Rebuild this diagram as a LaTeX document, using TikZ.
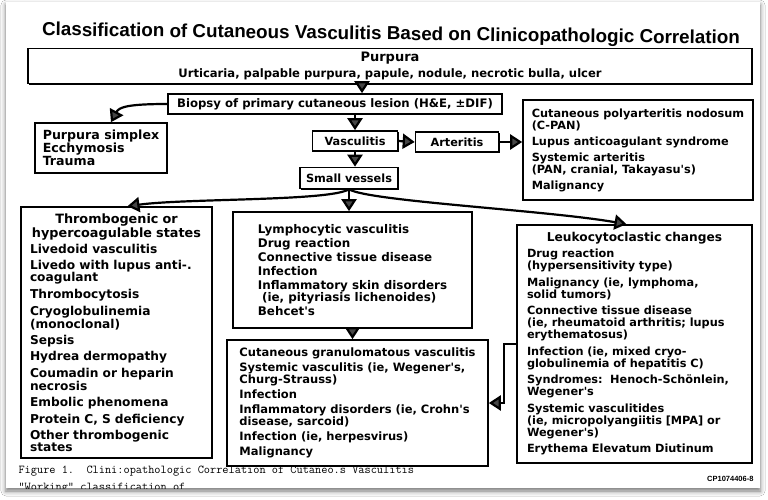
\documentclass[tikz,border=0pt]{standalone}
\usepackage{fontspec}
\newfontfamily\boxfont{DejaVu Sans}
\newfontfamily\headfont{Liberation Sans}
\usetikzlibrary{arrows.meta,shadows,shadows.blur}
\setlength\parindent{0pt}
\setlength\lineskiplimit{-20pt}

\tikzset{
  box/.style={draw=black, line width=1.6pt, fill=white, inner sep=0pt,
    font=\boxfont\bfseries\fontsize{11.3}{12}\selectfont,
    drop shadow={shadow xshift=1.3pt, shadow yshift=-1.3pt, fill=black, opacity=1}},
  arr/.style={line width=2.2pt, -{Triangle[width=15pt,length=12pt]}},
}

\begin{document}
\begin{tikzpicture}[x=1pt,y=-1pt]
  \useasboundingbox (0,0) rectangle (768,500);
  \fill[white] (0,0) rectangle (768,500);
  \fill[white, blur shadow={shadow xshift=0pt, shadow yshift=-3pt, shadow blur radius=5pt, shadow opacity=55}]
    (6,2) rectangle (760,488);
  \begin{scope}
  \clip (6,2) rectangle (760,488);

  % title
  \node[font=\headfont\bfseries\fontsize{18.8}{20}\selectfont, rotate=-0.7] (title) at (391,35)
    {Classification of Cutaneous Vasculitis Based on Clinicopathologic Correlation};

  % top row
  \node[box, minimum width=724pt, minimum height=35pt, align=center] (purpura) at (390,66)
    {{\fontsize{13}{12}\selectfont Purpura}\\[4pt]{\fontsize{11.6}{12}\selectfont Urticaria, palpable purpura, papule, nodule, necrotic bulla, ulcer}};
  \node[box, minimum width=334pt, minimum height=20pt, font=\boxfont\bfseries\fontsize{11.7}{12}\selectfont] (biopsy) at (335,104)
    {Biopsy of primary cutaneous lesion (H\&E, ±DIF)};
  \node[box, minimum width=132pt, minimum height=50pt, align=left, font=\boxfont\bfseries\fontsize{12.6}{13}\selectfont] (simplex) at (101,148)
    {Purpura simplex\\ Ecchymosis\\ Trauma};
  \node[box, minimum width=85pt, minimum height=20pt] (vasc) at (355,141) {Vasculitis};
  \node[box, minimum width=83pt, minimum height=20pt] (arter) at (457,142) {Arteritis};
  \node[box, minimum width=230pt, minimum height=100pt, align=left] (cpan) at (638,150)
    {Cutaneous polyarteritis nodosum\\ (C-PAN)\\[4pt] Lupus anticoagulant syndrome\\[4pt]
     Systemic arteritis\\ (PAN, cranial, Takayasu's)\\[4pt] Malignancy};
  \node[box, minimum width=98pt, minimum height=21pt] (small) at (349,178) {Small vessels};

  % lower row
  \node[box, minimum height=251pt, text width=179pt, inner xsep=6pt, align=left,
        font=\boxfont\bfseries\fontsize{12.2}{11.5}\selectfont] (thromb) at (116.5,332.5)
    {{\centering\fontsize{12.8}{14}\selectfont Thrombogenic or\\ hypercoagulable states\par}\vspace{3.5pt}
     \hspace*{3pt}Livedoid vasculitis\\[4pt]
     \hspace*{3pt}Livedo with lupus anti-.\\ \hspace*{3pt}coagulant\\[4pt]
     \hspace*{3pt}Thrombocytosis\\[4pt]
     \hspace*{3pt}Cryoglobulinemia\\ \hspace*{3pt}(monoclonal)\\[4pt]
     \hspace*{3pt}Sepsis\\[4pt]
     \hspace*{3pt}Hydrea dermopathy\\[4pt]
     \hspace*{3pt}Coumadin or heparin\\ \hspace*{3pt}necrosis\\[4pt]
     \hspace*{3pt}Embolic phenomena\\[4pt]
     \hspace*{3pt}Protein C, S deficiency\\[4pt]
     \hspace*{3pt}Other thrombogenic\\ \hspace*{3pt}states};
  \node[box, minimum width=239pt, minimum height=116pt, align=left,
        font=\boxfont\bfseries\fontsize{11.9}{12}\selectfont] (lymph) at (352.5,270)
    {Lymphocytic vasculitis\\[2pt] Drug reaction\\[2pt] Connective tissue disease\\[2pt] Infection\\[2pt]
     Inflammatory skin disorders\\ \ (ie, pityriasis lichenoides)\\[2pt] Behcet's};
  \node[box, minimum width=261pt, minimum height=126pt, align=left,
        font=\boxfont\bfseries\fontsize{11.5}{12}\selectfont] (granu) at (357.5,403)
    {Cutaneous granulomatous vasculitis\\[3pt] Systemic vasculitis (ie, Wegener's,\\ Churg-Strauss)\\[3pt]
     Infection\\[3pt] Inflammatory disorders (ie, Crohn's\\ disease, sarcoid)\\[3pt]
     Infection (ie, herpesvirus)\\[3pt] Malignancy};
  \node[box, minimum height=238pt, text width=215pt, inner xsep=10pt, align=left] (leuko) at (634.5,344)
    {{\centering\fontsize{12.2}{13}\selectfont Leukocytoclastic changes\par}\vspace{4pt}
     Drug reaction\\ (hypersensitivity type)\\[4.5pt]
     Malignancy (ie, lymphoma,\\ solid tumors)\\[4.5pt]
     Connective tissue disease\\ (ie, rheumatoid arthritis; lupus\\ erythematosus)\\[4.5pt]
     Infection (ie, mixed cryo-\\ globulinemia of hepatitis C)\\[4.5pt]
     Syndromes:\ \ Henoch-Schönlein,\\ Wegener's\\[4.5pt]
     Systemic vasculitides\\ (ie, micropolyangiitis [MPA] or\\ Wegener's)\\[4.5pt]
     Erythema Elevatum Diutinum};

  % connectors
  \draw[arr] ([xshift=27pt]biopsy.north |- purpura.south) -- ([xshift=27pt]biopsy.north);
  \draw[arr] (biopsy.west) .. controls +(-40,0) and +(8,-15) .. ([xshift=10pt]simplex.north);
  \draw[arr] (biopsy.south -| vasc.north) -- (vasc.north);
  \draw[arr] (vasc.east) -- (arter.west);
  \draw[arr] (arter.east) -- (arter.east -| cpan.west);
  \draw[arr] (vasc.south) -- (vasc.south |- small.north);
  \draw[arr] (small.south) .. controls +(-20,12) and +(60,-8) .. ([xshift=11pt]thromb.north);
  \draw[arr] (small.south) -- (small.south |- lymph.north);
  \draw[arr] (small.south) .. controls +(20,12) and +(-80,-14) .. ([xshift=-8pt]leuko.north);
  \draw[arr] (lymph.south) -- (lymph.south |- granu.north);
  \draw[arr] (leuko.west) -- ++(-12,0) |- (granu.east);

  % caption
  \node[font=\ttfamily\fontsize{12}{12}\selectfont, anchor=base west] (fig) at (15,473)
    {Figure 1.\ \ Clini:opathologic Correlation of Cutaneo.s Vasculitis};
  \node[font=\ttfamily\fontsize{12}{12}\selectfont, anchor=base west] (working) at (15,490)
    {“Working” classification of};
  \node[font=\headfont\bfseries\fontsize{7.5}{8}\selectfont, anchor=base east] (cpnum) at (757,481)
    {CP1074406-8};
  \end{scope}
\end{tikzpicture}
\end{document}
